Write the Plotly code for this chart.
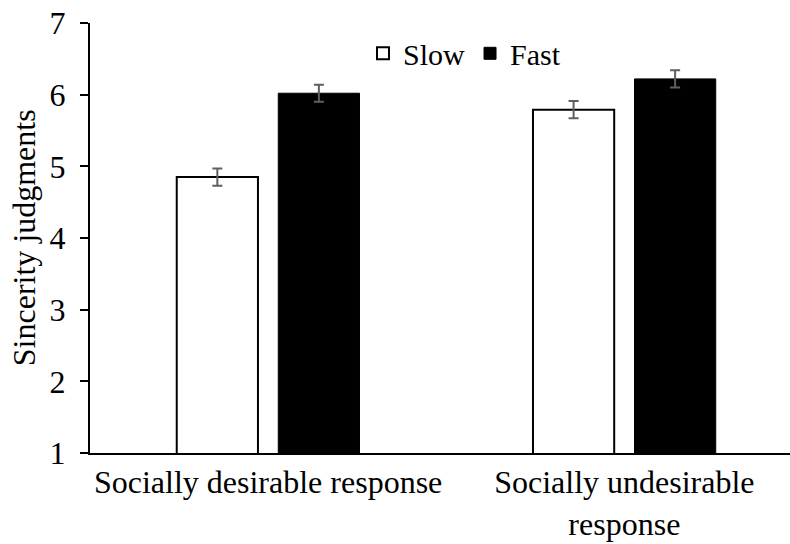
import plotly.graph_objects as go

# Mean sincerity judgments by response type and response speed
categories = ["Socially desirable response", "Socially undesirable<br>response"]
slow_means = [4.85, 5.79]
fast_means = [6.02, 6.22]
slow_se = [0.12, 0.12]
fast_se = [0.12, 0.12]
y_ticks = [1, 2, 3, 4, 5, 6, 7]

FONT = "Liberation Serif, Times New Roman, serif"
ERR_COLOR = "#5f5f5f"
FS = 32

fig = go.Figure()
fig.add_trace(go.Bar(
    name="Slow",
    x=categories,
    y=slow_means,
    marker=dict(color="white", line=dict(color="black", width=2)),
    error_y=dict(type="data", array=slow_se, color=ERR_COLOR, thickness=2, width=5),
))
fig.add_trace(go.Bar(
    name="Fast",
    x=categories,
    y=fast_means,
    marker=dict(color="black", line=dict(color="black", width=1)),
    error_y=dict(type="data", array=fast_se, color=ERR_COLOR, thickness=2, width=5),
))

fig.update_layout(
    width=790,
    height=544,
    margin=dict(l=90, r=0, t=23, b=91),
    paper_bgcolor="white",
    plot_bgcolor="white",
    barmode="group",
    bargap=0.43,
    bargroupgap=0.2,
    font=dict(family=FONT, size=FS, color="black"),
    showlegend=True,
    legend=dict(
        orientation="h",
        x=0.535, xanchor="center",
        y=0.99, yanchor="top",
        font=dict(family=FONT, size=FS - 2, color="black"),
        itemwidth=30,
        tracegroupgap=0,
        bgcolor="rgba(0,0,0,0)",
    ),
    xaxis=dict(
        range=[-0.5, 1.465],
        showline=True, linecolor="black", linewidth=2,
        ticks="", showgrid=False, zeroline=False,
        tickfont=dict(family=FONT, size=FS, color="black"),
    ),
    yaxis=dict(
        range=[1, 7],
        tickvals=y_ticks,
        showline=True, linecolor="black", linewidth=2,
        ticks="outside", ticklen=8, tickwidth=2, tickcolor="black",
        ticklabelstandoff=8,
        showgrid=False, zeroline=False,
        tickfont=dict(family=FONT, size=FS, color="black"),
    ),
    annotations=[dict(
        text="Sincerity judgments",
        xref="paper", yref="paper",
        x=-0.094, y=0.5,
        xanchor="center", yanchor="middle",
        textangle=-90, showarrow=False,
        font=dict(family=FONT, size=FS, color="black"),
    )],
)

fig.write_html("out.html")
